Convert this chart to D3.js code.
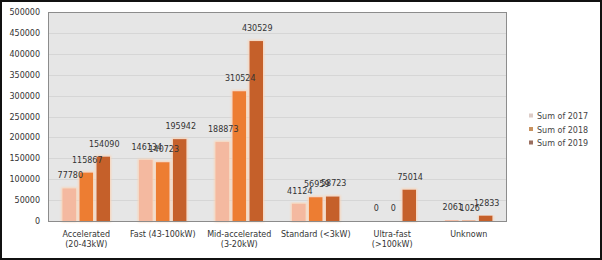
<!DOCTYPE html>
<html>
<head>
<meta charset="utf-8">
<script src="https://cdn.jsdelivr.net/npm/d3@7"></script>
<style>
  html, body { margin: 0; padding: 0; background: #fff; }
  svg { display: block; }
  text { font-family: "DejaVu Sans", sans-serif; }
</style>
</head>
<body>
<svg id="chart" width="602" height="260"></svg>
<script>
const categories = [
  ["Accelerated", "(20-43kW)"],
  ["Fast (43-100kW)"],
  ["Mid-accelerated", "(3-20kW)"],
  ["Standard (<3kW)"],
  ["Ultra-fast", "(>100kW)"],
  ["Unknown"]
];
const seriesNames = ["Sum of 2017", "Sum of 2018", "Sum of 2019"];
const values2017 = [77780, 146134, 188873, 41124, 0, 2061];
const values2018 = [115867, 140723, 310524, 56959, 0, 1026];
const values2019 = [154090, 195942, 430529, 58723, 75014, 12833];
const yTicks = [0, 50000, 100000, 150000, 200000, 250000, 300000, 350000, 400000, 450000, 500000];

const series = [values2017, values2018, values2019];
const barColors = ["#f4b9a0", "#ed7d31", "#c5602a"];
const legendColors = ["#dccbc6", "#c8925f", "#9a6f60"];

const svg = d3.select("#chart");
const W = 602, H = 260;
const plot = { left: 48, right: 507, top: 12, bottom: 221 };

// outer frame
svg.append("rect").attr("x", 1).attr("y", 1).attr("width", W - 2).attr("height", H - 2)
  .attr("fill", "#fff").attr("stroke", "#111").attr("stroke-width", 2);

const defs = svg.append("defs");
const f = defs.append("filter").attr("id", "glow").attr("x", "-30%").attr("y", "-10%").attr("width", "160%").attr("height", "120%");
f.append("feMorphology").attr("in", "SourceAlpha").attr("operator", "dilate").attr("radius", 1).attr("result", "d");
f.append("feGaussianBlur").attr("in", "d").attr("stdDeviation", 0.8).attr("result", "b");
f.append("feFlood").attr("flood-color", "#fbd3b4").attr("result", "c");
f.append("feComposite").attr("in", "c").attr("in2", "b").attr("operator", "in").attr("result", "g");
const m = f.append("feMerge");
m.append("feMergeNode").attr("in", "g");
m.append("feMergeNode").attr("in", "SourceGraphic");

const y = d3.scaleLinear().domain([0, 500000]).range([plot.bottom, plot.top]);
const x0 = d3.scaleBand().domain(d3.range(categories.length)).range([plot.left, plot.right]);
const x1 = d3.scaleBand().domain(d3.range(series.length)).range([14.5, 62]).paddingInner(0.2).paddingOuter(0);

// plot background
svg.append("rect").attr("x", plot.left).attr("y", plot.top)
  .attr("width", plot.right - plot.left).attr("height", plot.bottom - plot.top)
  .attr("fill", "#e6e6e6");

// gridlines
svg.append("g").selectAll("line").data(yTicks.slice(1, -1)).join("line")
  .attr("x1", plot.left).attr("x2", plot.right)
  .attr("y1", d => Math.round(y(d)) + 0.5).attr("y2", d => Math.round(y(d)) + 0.5)
  .attr("stroke", "#d6d6d6").attr("stroke-width", 1);

// y axis
const yAxis = d3.axisLeft(y).tickValues(yTicks).tickSize(0).tickPadding(8).tickFormat(d3.format("d"));
const ya = svg.append("g").attr("transform", `translate(${plot.left},0)`).call(yAxis);
ya.select(".domain").remove();
ya.selectAll("text").attr("font-size", 8).attr("fill", "#333").attr("font-family", "DejaVu Sans, sans-serif");

// bars
const groups = svg.append("g").selectAll("g").data(categories).join("g")
  .attr("transform", (d, i) => `translate(${x0(i)},0)`);

series.forEach((vals, s) => {
  groups.append("rect")
    .attr("x", x1(s))
    .attr("width", x1.bandwidth())
    .attr("y", (d, i) => y(vals[i]))
    .attr("height", (d, i) => y(0) - y(vals[i]))
    .attr("fill", barColors[s])
    .attr("filter", (d, i) => vals[i] > 0 ? "url(#glow)" : null);
});

// plot border
svg.append("rect").attr("x", plot.left + 0.5).attr("y", plot.top + 0.5)
  .attr("width", plot.right - plot.left - 1).attr("height", plot.bottom - plot.top)
  .attr("fill", "none").attr("stroke", "#8c8c8c").attr("stroke-width", 1);

// value labels
series.forEach((vals, s) => {
  groups.append("text")
    .attr("x", x1(s) + x1.bandwidth() / 2 + 1)
    .attr("y", (d, i) => y(vals[i]) - 10)
    .attr("text-anchor", "middle")
    .attr("font-size", 8)
    .attr("fill", "#333")
    .text((d, i) => vals[i]);
});

// x category labels
groups.append("text")
  .attr("x", x0.bandwidth() / 2)
  .attr("y", 237)
  .attr("text-anchor", "middle")
  .attr("font-size", 8)
  .attr("fill", "#333")
  .selectAll("tspan").data(d => d).join("tspan")
  .attr("x", x0.bandwidth() / 2)
  .attr("dy", (d, i) => i === 0 ? 0 : 9.5)
  .text(d => d);

// legend
const lg = svg.append("g").selectAll("g").data(seriesNames).join("g")
  .attr("transform", (d, i) => `translate(529,${116 + i * 13.5})`);
lg.append("rect").attr("x", 0).attr("y", -2.5).attr("width", 4).attr("height", 4)
  .attr("fill", (d, i) => legendColors[i]);
lg.append("text").attr("x", 8).attr("y", 3).attr("font-size", 8).attr("fill", "#444").text(d => d);
</script>
</body>
</html>
